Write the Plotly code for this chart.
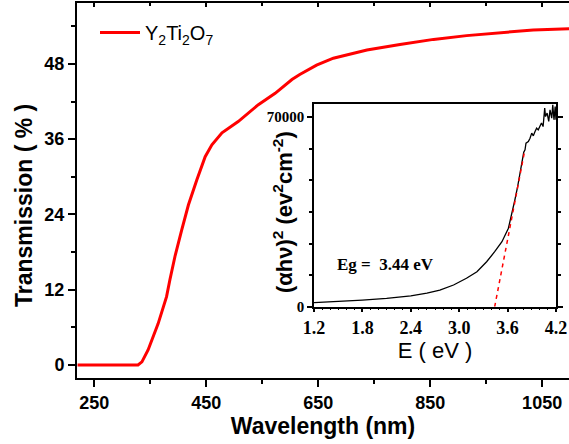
import plotly.graph_objects as go

# ---- main spectrum: wavelength (nm) vs transmission (%)
wavelength = [220, 260, 300, 328, 335, 346, 364, 379, 385, 394, 406, 418, 433, 448, 460,
              478, 507, 543, 573, 603, 617, 647, 677, 737, 796, 856, 915, 975, 1034, 1100]
transmission = [0, 0, 0, 0, 0.5, 2.4, 6.6, 10.9, 13.6, 17.3, 21.5, 25.5, 29.5, 33.2, 35.1,
                37.0, 38.8, 41.5, 43.3, 45.5, 46.3, 47.8, 48.9, 50.2, 51.1, 51.9, 52.5, 53.0, 53.4, 53.6]

# ---- inset: Tauc plot
energy = [1.2, 1.5, 1.8, 2.1, 2.4, 2.6, 2.76, 2.93, 3.09, 3.22, 3.34, 3.44, 3.53, 3.61, 3.65,
          3.69, 3.725, 3.754, 3.78, 3.8, 3.816, 3.828, 3.857, 3.878, 3.899, 3.919, 3.94, 3.96,
          3.98, 4.0, 4.02, 4.04, 4.06, 4.07, 4.09, 4.11, 4.126, 4.147, 4.16, 4.175, 4.19, 4.2]
tauc = [1500, 1900, 2450, 3100, 4000, 5000, 6100, 8000, 10500, 12900, 16600, 20300, 24000, 29000, 33900,
        39400, 44400, 49300, 53500, 57000, 57900, 60400, 61000, 62200, 64100, 63100, 64700, 65900,
        65300, 66800, 67800, 66500, 73300, 70200, 71500, 68400, 72700, 69600, 74500, 69000, 73900, 69000]
fit_energy = [3.44, 3.81]
fit_tauc = [0, 57300]

main_xticks = [250, 450, 650, 850, 1050]
main_xminor = [350, 550, 750, 950]
main_yticks = [0, 12, 24, 36, 48]
main_yminor = [6, 18, 30, 42, 54]
inset_xticks = [1.2, 1.8, 2.4, 3.0, 3.6, 4.2]
inset_xlabels = ["1.2", "1.8", "2.4", "3.0", "3.6", "4.2"]
inset_yticks = [0, 70000]
inset_ylabels = ["0", "70000"]

W, H = 569, 444
L, R, T, B = 77, 0, 3, 66
PW, PH = W - L - R, H - T - B


def px(x):
    return (x - L) / PW


def py(y):
    return (H - B - y) / PH


ARIAL = "Liberation Sans, Arial, sans-serif"
TIMES = "Liberation Serif, Times New Roman, serif"

fig = go.Figure()
fig.add_trace(go.Scatter(x=wavelength, y=transmission, mode="lines",
                         line=dict(color="#ff0000", width=3),
                         name="Y<sub>2</sub>Ti<sub>2</sub>O<sub>7</sub>"))
fig.add_trace(go.Scatter(x=[], y=[], xaxis="x3", yaxis="y", showlegend=False, hoverinfo="skip"))
fig.add_trace(go.Scatter(x=energy, y=tauc, mode="lines", line=dict(color="black", width=1.3),
                         xaxis="x2", yaxis="y2", showlegend=False))
fig.add_trace(go.Scatter(x=fit_energy, y=fit_tauc, mode="lines",
                         line=dict(color="#ff0000", width=1.5, dash="4px,4px"),
                         xaxis="x2", yaxis="y2", showlegend=False))

axis_common = dict(showline=True, linecolor="black", linewidth=2, ticks="outside",
                   ticklen=7, tickwidth=2, tickcolor="black", showgrid=False, zeroline=False,
                   automargin=False)

fig.update_layout(
    template="none",
    width=W, height=H,
    margin=dict(l=L, r=R, t=T, b=B, pad=0),
    paper_bgcolor="white", plot_bgcolor="white",
    xaxis=dict(**axis_common, range=[219, 1098], tickvals=main_xticks,
               tickfont=dict(family=ARIAL, size=18, color="black", weight="bold"),
               minor=dict(tickvals=main_xminor, ticks="outside", ticklen=4, tickwidth=2, tickcolor="black"),
               title=dict(text="Wavelength (nm)", font=dict(family=ARIAL, size=23, color="black", weight="bold"),
                          standoff=5)),
    xaxis3=dict(overlaying="x", matches="x", side="top", showline=True, linecolor="black", linewidth=2,
                ticks="inside", ticklen=4, tickwidth=2, tickcolor="black", tickvals=main_xticks,
                showticklabels=False, showgrid=False, zeroline=False, automargin=False,
                minor=dict(tickvals=main_xminor, ticks="inside", ticklen=3, tickwidth=2,
                           tickcolor="black")),
    yaxis=dict(**axis_common, range=[-2.07, 57.7], tickvals=main_yticks,
               tickfont=dict(family=ARIAL, size=18, color="black", weight="bold"),
               minor=dict(tickvals=main_yminor, ticks="outside", ticklen=4, tickwidth=2, tickcolor="black")),
    xaxis2=dict(domain=[px(314), px(556)], anchor="y2", range=[1.2, 4.2], tickvals=inset_xticks,
                ticktext=inset_xlabels, automargin=False,
                showline=True, mirror=True, linecolor="black", linewidth=1.5,
                ticks="outside", ticklen=4, tickwidth=1.5, tickcolor="black",
                minor=dict(dtick=0.1, tick0=1.2, ticks="outside", ticklen=2, tickwidth=1, tickcolor="black"),
                tickfont=dict(family=TIMES, size=18, color="black", weight="bold"),
                showgrid=False, zeroline=False,
                title=dict(text="E ( eV )", font=dict(family=ARIAL, size=22, color="black"), standoff=3)),
    yaxis2=dict(domain=[py(306.7), py(104)], anchor="x2", range=[0, 74840], tickvals=inset_yticks,
                ticktext=inset_ylabels, automargin=False,
                showline=True, mirror="ticks", linecolor="black", linewidth=1.5,
                ticks="outside", ticklen=5, tickwidth=1.5, tickcolor="black",
                minor=dict(dtick=70000 / 6, tick0=0, ticks="outside", ticklen=3, tickwidth=1.5,
                           tickcolor="black"),
                tickfont=dict(family=TIMES, size=15, color="black", weight="bold"),
                showgrid=False, zeroline=False),
    legend=dict(x=px(95), y=py(13), xanchor="left", yanchor="top", bgcolor="rgba(0,0,0,0)",
                borderwidth=0, itemwidth=40, font=dict(family=ARIAL, size=20, color="black")),
    annotations=[
        dict(text="Transmission ( % )", textangle=-90, xref="paper", yref="paper",
             x=px(24), y=py(206), showarrow=False, xanchor="center", yanchor="middle",
             font=dict(family=ARIAL, size=23, color="black", weight="bold")),
        dict(text="(αhν)<sup>2</sup> (ev<sup>2</sup>cm<sup>-2</sup>)", textangle=-90,
             xref="paper", yref="paper", x=px(283), y=py(212), showarrow=False,
             xanchor="center", yanchor="middle",
             font=dict(family=ARIAL, size=22, color="black", weight="bold")),
        dict(text="Eg =\u00a0 3.44 eV", xref="x2", yref="y2", x=2.09, y=15400, showarrow=False,
             xanchor="center", yanchor="middle",
             font=dict(family=TIMES, size=17, color="black", weight="bold")),
    ],
)

fig.write_html("out.html", config={"displayModeBar": False},
               post_script="document.body.style.margin='0px';")
